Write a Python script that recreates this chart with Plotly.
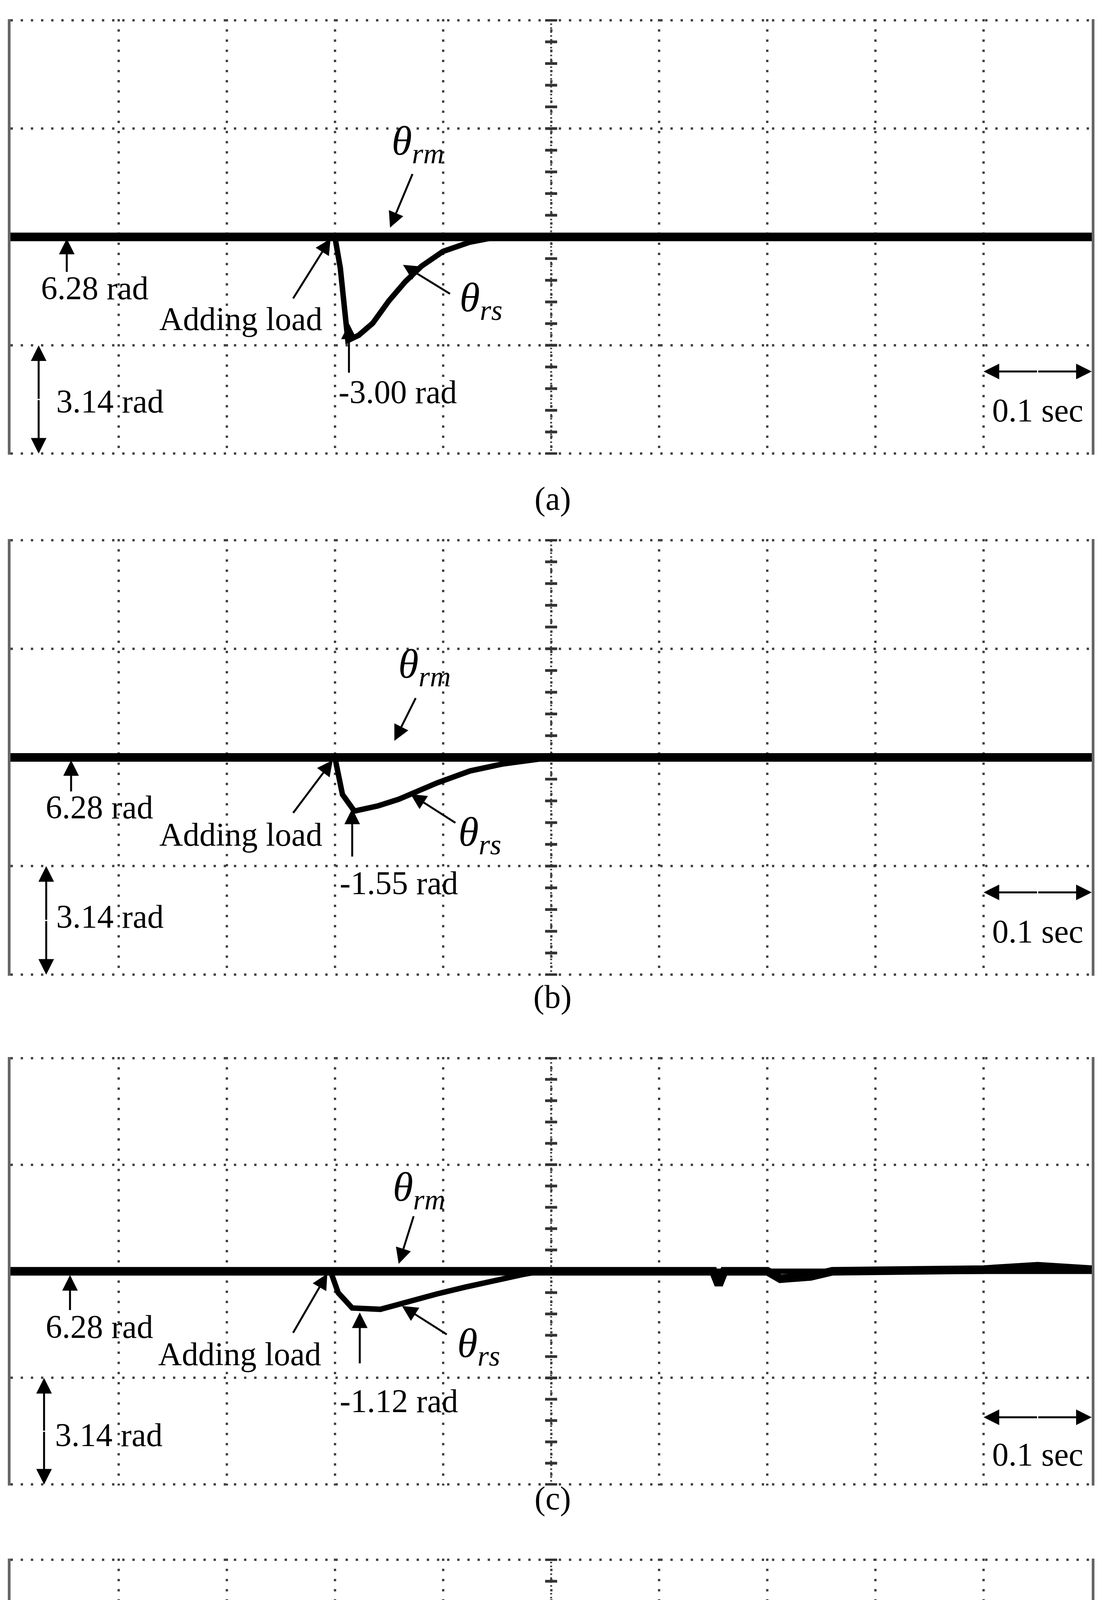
import plotly.graph_objects as go
import numpy as np

W, H = 2830, 5256
FONT = "Liberation Serif"

# ---- data (time in s, angle error in rad) ----
panel_names = ["(a)", "(b)", "(c)", "(d)"]
dip_labels = ["-3.00 rad", "-1.55 rad", "-1.12 rad", "-0.72 rad"]

rs_t_a = [0.0, 0.300, 0.305, 0.312, 0.322, 0.335, 0.350, 0.365, 0.380, 0.400, 0.425, 0.450, 1.0]
rs_v_a = [0.0, 0.0, -0.9, -3.0, -2.85, -2.5, -1.85, -1.3, -0.85, -0.42, -0.15, 0.0, 0.0]
rs_t_b = [0.0, 0.300, 0.307, 0.318, 0.340, 0.359, 0.377, 0.395, 0.425, 0.455, 0.500, 1.0]
rs_v_b = [0.0, 0.0, -1.07, -1.55, -1.40, -1.21, -0.97, -0.73, -0.39, -0.19, 0.0, 0.0]
rs_t_c = [0.0, 0.296, 0.303, 0.316, 0.342, 0.368, 0.394, 0.420, 0.447, 0.473, 0.490, 1.0]
rs_v_c = [0.0, 0.0, -0.63, -1.08, -1.12, -0.88, -0.67, -0.47, -0.27, -0.10, 0.0, 0.0]
rs_t_d = [0.0, 0.302, 0.306, 0.320, 0.342, 0.368, 0.394, 0.417, 0.430, 1.0]
rs_v_d = [0.0, 0.0, -0.47, -0.72, -0.64, -0.42, -0.21, -0.08, 0.0, 0.0]

rm_t_a = [0.0, 1.0]
rm_v_a = [0.0, 0.0]
rm_t_b = [0.0, 1.0]
rm_v_b = [0.0, 0.0]
rm_t_c = [0.0, 0.650, 0.655, 0.660, 0.700, 0.712, 0.740, 0.760, 0.900, 0.950, 1.0]
rm_v_c = [0.0, 0.0, -0.40, 0.0, 0.0, -0.22, -0.15, 0.0, 0.05, 0.15, 0.05]
rm_t_d = [0.0, 1.0]
rm_v_d = [0.0, 0.0]

rs_t = [rs_t_a, rs_t_b, rs_t_c, rs_t_d]
rs_v = [rs_v_a, rs_v_b, rs_v_c, rs_v_d]
rm_t = [rm_t_a, rm_t_b, rm_t_c, rm_t_d]
rm_v = [rm_v_a, rm_v_b, rm_v_c, rm_v_d]

# ---- layout geometry (px from top) ----
panel_px = [(49, 1164), (1380, 2498), (2706, 3803), (3990, 5102)]
label_px = [1228, 2552, 3885, 5192]
X0, X1 = 27 / W, 2796 / W

ann = [
    dict(rm_txt=(0.377, 2.7), rm_tail=(0.372, 1.84), rm_head=(0.351, 0.27),
         a628_x=0.052, a628_head=-0.05, a628_tail=-1.03, t628=(0.078, -1.48),
         al_head=(0.296, -0.05), al_tail=(0.261, -1.8), t_al=(0.213, -2.38),
         rs_head=(0.363, -0.81), rs_tail=(0.407, -1.66), t_rs=(0.435, -1.84),
         dp_head=(0.313, -2.51), dp_tail=(0.313, -3.95), t_dp=(0.358, -4.49),
         a314_x=0.026, t314=(0.092, -4.76), sec_y=-3.9, tsec_y=-5.03),
    dict(rm_txt=(0.383, 2.62), rm_tail=(0.375, 1.73), rm_head=(0.355, 0.48),
         a628_x=0.056, a628_head=-0.08, a628_tail=-1.0, t628=(0.082, -1.44),
         al_head=(0.298, -0.08), al_tail=(0.261, -1.62), t_al=(0.213, -2.23),
         rs_head=(0.370, -1.06), rs_tail=(0.412, -1.9), t_rs=(0.434, -2.23),
         dp_head=(0.316, -1.48), dp_tail=(0.316, -2.88), t_dp=(0.359, -3.63),
         a314_x=0.033, t314=(0.092, -4.6), sec_y=-3.9, tsec_y=-5.03),
    dict(rm_txt=(0.378, 2.4), rm_tail=(0.373, 1.64), rm_head=(0.359, 0.22),
         a628_x=0.055, a628_head=-0.11, a628_tail=-1.16, t628=(0.082, -1.63),
         al_head=(0.293, -0.07), al_tail=(0.261, -1.83), t_al=(0.212, -2.44),
         rs_head=(0.362, -1.02), rs_tail=(0.404, -1.87), t_rs=(0.433, -2.2),
         dp_head=(0.323, -1.21), dp_tail=(0.323, -2.73), t_dp=(0.359, -3.82),
         a314_x=0.031, t314=(0.091, -4.82), sec_y=-4.3, tsec_y=-5.39),
    dict(rm_txt=(0.378, 2.3), rm_tail=(0.381, 1.74), rm_head=(0.363, 0.24),
         a628_x=0.062, a628_head=-0.05, a628_tail=-1.08, t628=(0.088, -1.36),
         al_head=(0.297, -0.24), al_tail=(0.261, -1.83), t_al=(0.215, -2.45),
         rs_head=(0.368, -0.47), rs_tail=(0.417, -1.32), t_rs=(0.440, -1.69),
         dp_head=(0.323, -0.8), dp_tail=(0.328, -2.87), t_dp=(0.365, -3.72),
         a314_x=0.033, t314=(0.093, -4.61), sec_y=-4.37, tsec_y=-5.41),
]

DIV = 3.14
YR = [-2 * DIV - 0.03, 2 * DIV + 0.03]
center_ticks = np.round(np.arange(-10, 11) * DIV / 5, 4)

fig = go.Figure()
annotations = []
TXT = dict(family=FONT, size=84, color="black")
TH = dict(family=FONT, size=106, color="black")

def arrow(xr, yr, head, tail, w=5, size=1.6):
    annotations.append(dict(x=head[0], y=head[1], ax=tail[0], ay=tail[1],
                            xref=xr, yref=yr, axref=xr, ayref=yr, text="",
                            showarrow=True, arrowhead=2, arrowsize=size,
                            arrowwidth=w, arrowcolor="black"))

def text(xr, yr, pos, s, font=TXT):
    annotations.append(dict(x=pos[0], y=pos[1], xref=xr, yref=yr, text=s,
                            showarrow=False, font=font))

for i in range(4):
    n = "" if i == 0 else str(i + 1)
    xa, ya = "xaxis" + n, "yaxis" + n
    xr, yr = "x" + n, "y" + n
    top, bot = panel_px[i]
    dom = [1 - bot / H, 1 - top / H]
    fig.update_layout(**{
        xa: dict(domain=[X0, X1], range=[0, 1], dtick=0.1, showticklabels=False,
                 showgrid=True, gridcolor="#444", gridwidth=6, griddash="6px,20px",
                 zeroline=False, showline=False, anchor=yr, fixedrange=True),
        ya: dict(domain=dom, range=YR, tick0=0, dtick=DIV, showticklabels=False,
                 showgrid=True, gridcolor="#444", gridwidth=6, griddash="6px,20px",
                 zeroline=False, showline=True, mirror=True, linecolor="#666",
                 linewidth=7, anchor=xr, fixedrange=True),
    })
    fig.add_trace(go.Scatter(x=[0.5, 0.5], y=[YR[0], YR[1]], xaxis=xr, yaxis=yr,
                             mode="lines", line=dict(color="#444", width=5, dash="4px,6px"),
                             hoverinfo="skip", showlegend=False))
    fig.add_trace(go.Scatter(x=[0.5] * len(center_ticks), y=center_ticks, xaxis=xr, yaxis=yr,
                             mode="markers", marker=dict(symbol="line-ew", size=22,
                                                         line=dict(color="#333", width=7)),
                             hoverinfo="skip", showlegend=False))
    fig.add_trace(go.Scatter(x=rs_t[i], y=rs_v[i], xaxis=xr, yaxis=yr, mode="lines",
                             line=dict(color="black", width=14), showlegend=False))
    fig.add_trace(go.Scatter(x=rm_t[i], y=rm_v[i], xaxis=xr, yaxis=yr, mode="lines",
                             line=dict(color="black", width=22), showlegend=False))
    a = ann[i]
    text(xr, yr, a["rm_txt"], "<i>θ<sub>rm</sub></i>", TH)
    arrow(xr, yr, a["rm_head"], a["rm_tail"])
    arrow(xr, yr, (a["a628_x"], a["a628_head"]), (a["a628_x"], a["a628_tail"]))
    text(xr, yr, a["t628"], "6.28 rad")
    arrow(xr, yr, a["al_head"], a["al_tail"])
    text(xr, yr, a["t_al"], "Adding load")
    arrow(xr, yr, a["rs_head"], a["rs_tail"])
    text(xr, yr, a["t_rs"], "<i>θ<sub>rs</sub></i>", TH)
    arrow(xr, yr, a["dp_head"], a["dp_tail"])
    text(xr, yr, a["t_dp"], dip_labels[i])
    mid = -1.5 * DIV
    arrow(xr, yr, (a["a314_x"], -DIV), (a["a314_x"], mid))
    arrow(xr, yr, (a["a314_x"], -2 * DIV), (a["a314_x"], mid))
    text(xr, yr, a["t314"], "3.14 rad")
    arrow(xr, yr, (0.9, a["sec_y"]), (0.95, a["sec_y"]))
    arrow(xr, yr, (1.0, a["sec_y"]), (0.95, a["sec_y"]))
    text(xr, yr, (0.95, a["tsec_y"]), "0.1 sec")
    annotations.append(dict(x=0.5, y=1 - label_px[i] / H, xref="paper", yref="paper",
                            text=panel_names[i], showarrow=False, font=TXT))

fig.update_layout(width=W, height=H, margin=dict(l=0, r=0, t=0, b=0),
                  paper_bgcolor="white", plot_bgcolor="white",
                  annotations=annotations, showlegend=False)
fig.write_html("out.html", config={"displayModeBar": False},
               post_script="document.body.style.margin='0';")
